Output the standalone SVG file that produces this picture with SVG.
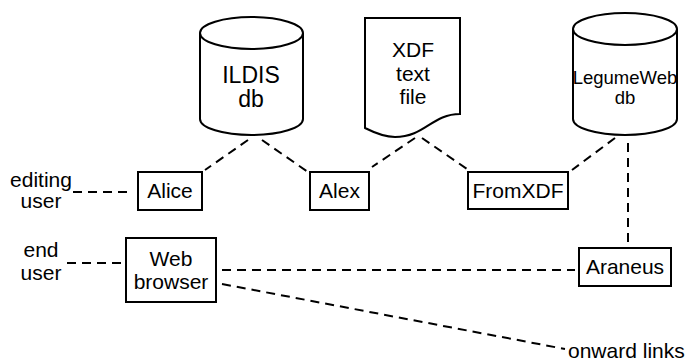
<svg xmlns="http://www.w3.org/2000/svg" width="685" height="364" viewBox="0 0 685 364">
<style>
.shape{fill:#fff;stroke:#000;stroke-width:2}
.line{fill:none;stroke:#000;stroke-width:2;stroke-dasharray:9 6}
text{font-family:"Liberation Sans",Arial,sans-serif;font-size:21px;fill:#000;text-anchor:middle}
</style>
<rect width="685" height="364" fill="#fff"/>
<g id="connectors">
<line class="line" x1="73" y1="192" x2="130" y2="192"/>
<line class="line" x1="67" y1="263" x2="122" y2="263"/>
<line class="line" x1="248" y1="140" x2="205" y2="170"/>
<line class="line" x1="262" y1="140" x2="308" y2="172"/>
<line class="line" x1="415" y1="138" x2="372" y2="167"/>
<line class="line" x1="422" y1="138" x2="467" y2="169"/>
<line class="line" x1="615" y1="138" x2="572" y2="170"/>
<line class="line" x1="628" y1="143" x2="628" y2="242"/>
<line class="line" x1="222" y1="270" x2="575" y2="270"/>
<line class="line" x1="222" y1="284" x2="565" y2="349"/>
</g>
<g id="ildis">
<path class="shape" d="M200,33 V119 A51.5,16 0 0 0 303,119 V33 A51.5,16 0 0 0 200,33 Z"/>
<path class="shape" fill="none" d="M200,33 A51.5,16 0 0 0 303,33"/>
<text x="251" y="83" style="font-size:23px">ILDIS</text>
<text x="251" y="107" style="font-size:23px">db</text>
</g>
<g id="xdf">
<path class="shape" d="M365,18 H460 V114 C432,114 425,137 395,137 C385,137 375,133 365,128 Z"/>
<text x="413" y="57">XDF</text>
<text x="413" y="81">text</text>
<text x="413" y="104">file</text>
</g>
<g id="legumeweb">
<path class="shape" d="M573,29 V119 A52,16 0 0 0 677,119 V29 A52,16 0 0 0 573,29 Z"/>
<path class="shape" fill="none" d="M573,29 A52,16 0 0 0 677,29"/>
<text x="625" y="84" style="font-size:18.5px">LegumeWeb</text>
<text x="625" y="104" style="font-size:18.5px">db</text>
</g>
<g id="alice">
<rect class="shape" x="138" y="172" width="64" height="38"/>
<text x="170" y="198">Alice</text>
</g>
<g id="alex">
<rect class="shape" x="310" y="172" width="59" height="38"/>
<text x="339.5" y="198">Alex</text>
</g>
<g id="fromxdf">
<rect class="shape" x="468" y="172" width="100" height="37"/>
<text x="518" y="198">FromXDF</text>
</g>
<g id="webbrowser">
<rect class="shape" x="126" y="238" width="90" height="64"/>
<text x="171" y="266">Web</text>
<text x="171" y="289">browser</text>
</g>
<g id="araneus">
<rect class="shape" x="579" y="248" width="92" height="38"/>
<text x="625" y="274">Araneus</text>
</g>
<g id="editinguser">
<text x="41" y="187">editing</text>
<text x="41" y="208">user</text>
</g>
<g id="enduser">
<text x="41" y="257">end</text>
<text x="41" y="280">user</text>
</g>
<g id="onwardlinks">
<text x="568" y="358" style="text-anchor:start">onward links</text>
</g>
</svg>
